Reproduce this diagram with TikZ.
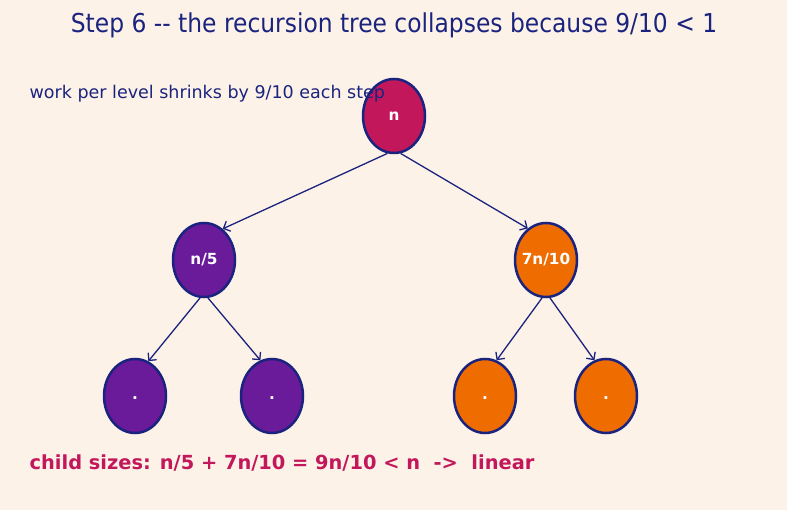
\documentclass[tikz,border=0pt]{standalone}
\usepackage{fontspec}
\setmainfont{DejaVu Sans}
\newfontfamily\condfont{DejaVu Sans Condensed}
\usetikzlibrary{shapes.geometric,arrows.meta}
\definecolor{navy}{HTML}{1A237E}
\definecolor{crimson}{HTML}{C2185B}
\definecolor{grape}{HTML}{6A1B9A}
\definecolor{tangerine}{HTML}{EF6C00}
\definecolor{cream}{HTML}{FDF2E8}
\begin{document}
\begin{tikzpicture}[x=1pt,y=-1pt,-{Straight Barb[length=5.5pt,width=11pt]},color=navy,line width=1.3pt,
  state/.style={ellipse,draw=navy,line width=2.5pt,minimum width=62pt,minimum height=74pt,inner sep=0pt,text=white,font=\bfseries\fontsize{15.3}{15.3}\selectfont}]

\fill[cream] (0,0) rectangle (787,510);

\node[state,fill=crimson] (A) at (394,116) {n};
\node[state,fill=grape] (B) at (204,260) {n/5};
\node[state,fill=tangerine] (C) at (546,260) {\makebox[0pt]{7n/10}};
\node[state,fill=grape] (D) at (135,396) {\raisebox{-3pt}[0pt][0pt]{.}};
\node[state,fill=grape] (E) at (272,396) {\raisebox{-3pt}[0pt][0pt]{.}};
\node[state,fill=tangerine] (F) at (485,396) {\raisebox{-3pt}[0pt][0pt]{.}};
\node[state,fill=tangerine] (G) at (606,396) {\raisebox{-3pt}[0pt][0pt]{.}};

\path (A.-100) edge (B.59);
\path (A.-80) edge (C.120);
\path (B.-96) edge (D.69);
\path (B.-84) edge (E.108);
\path (C.-96) edge (F.72);
\path (C.-84) edge (G.108);

\node[anchor=base,font=\condfont\fontsize{26}{26}\selectfont] (T) at (394,32.3) {Step 6 -{}- the recursion tree collapses because 9/10 < 1};
\node[anchor=base west,inner sep=0pt,font=\fontsize{17.5}{17.5}\selectfont] (S) at (29,98.5) {work per level shrinks by 9/10 each step};
\node[anchor=base west,inner sep=0pt,text=crimson,font=\bfseries\fontsize{19.4}{19.4}\selectfont] (N) at (29,469) {child sizes: n/5 + 7n/10 = 9n/10 < n \ -{}> \ linear};
\end{tikzpicture}
\end{document}
